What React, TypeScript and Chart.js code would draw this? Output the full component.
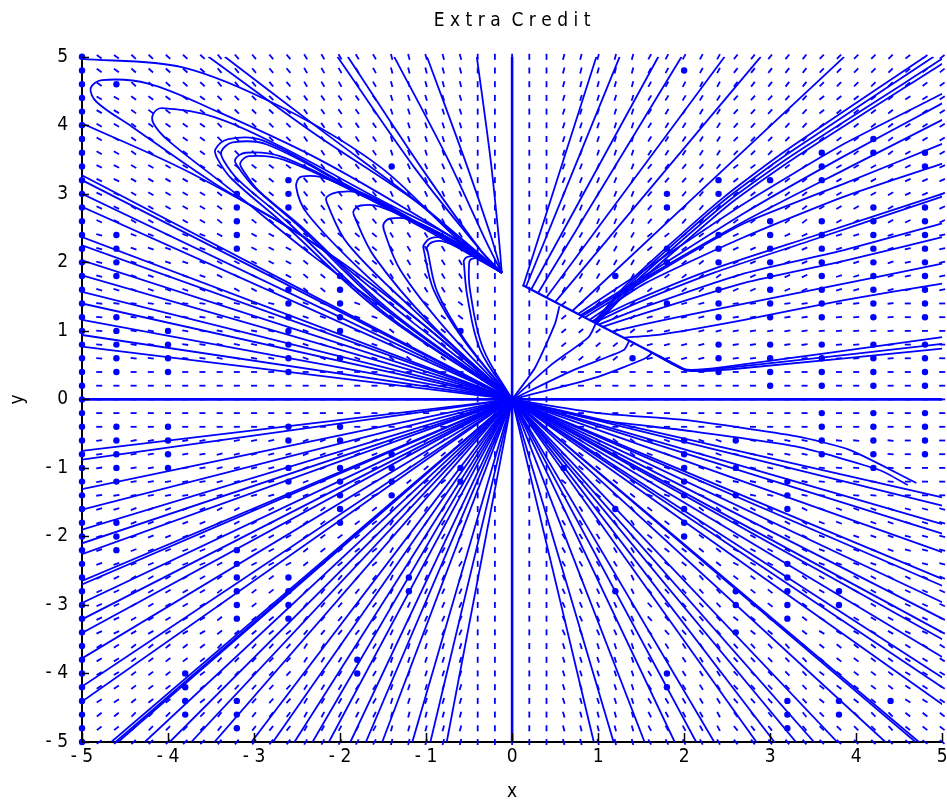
import React, { useEffect, useRef } from "react";
import { Chart, registerables } from "chart.js";
Chart.register(...registerables);

type P = [number, number];
const BLUE = "#0000ff";
const FONT = "'Liberation Sans Narrow', 'DejaVu Sans Condensed', 'Liberation Sans', Arial, sans-serif";

const xTicks = [-5, -4, -3, -2, -1, 0, 1, 2, 3, 4, 5];
const yTicks = [-5, -4, -3, -2, -1, 0, 1, 2, 3, 4, 5];

// direction-field dash angles (screen degrees, "/" positive), read on a 1-unit grid
// rows: y = 5 .. -5, columns: x = -5 .. 5
const fieldAngles: number[][] = [
  [-35, -42, -50, -60, -75, 90, 75, 62, 52, 45, 38],
  [-30, -36, -45, -55, -72, 90, 72, 58, 47, 38, 32],
  [-25, -30, -38, -50, -65, 90, 68, 50, 38, 30, 25],
  [-15, -20, -28, -40, -58, 90, 60, 38, 25, 18, 12],
  [-5, -8, -12, -20, -38, 90, 40, 15, 8, 5, 0],
  [0, 0, 0, 0, 0, 90, 0, 0, 0, 0, 0],
  [8, 10, 14, 22, 40, 90, -38, -20, -12, -5, 0],
  [18, 22, 28, 38, 58, 90, -58, -38, -28, -20, -15],
  [25, 30, 38, 50, 65, 90, -65, -48, -38, -30, -25],
  [32, 38, 47, 58, 72, 90, -72, -58, -47, -38, -32],
  [38, 45, 52, 62, 75, 90, -75, -62, -52, -45, -38],
];
const fieldStep = 0.2;

// zero-length field arrows (drawn as dots): column x and its rows y
const dotColumns: [number, number[]][] = [
  [-4.6, [4.6, 2.4, 2.2, 2.0, 1.8, 1.2, 1.0, 0.8, 0.6, 0.4, -0.4, -0.6, -0.8, -1.0, -1.2, -1.8, -2.0, -2.2]],
  [-4.0, [1.0, 0.8, 0.6, 0.4, -0.4, -0.6, -0.8, -1.0]],
  [-3.8, [-4.0, -4.2, -4.4, -4.6]],
  [-3.2, [3.0, 2.8, 2.6, 2.4, 2.2, -2.2, -2.4, -2.6, -2.8, -3.0, -3.2, -4.4, -4.6, -4.8]],
  [-2.6, [3.2, 3.0, 2.8, 1.6, 1.4, 1.2, 1.0, 0.8, 0.6, 0.4, -0.4, -0.6, -1.0, -1.2, -1.4, -2.6, -2.8, -3.0, -3.2]],
  [-2.0, [1.8, 1.6, 1.4, 1.2, 1.0, 0.6, -0.4, -0.6, -1.0, -1.2, -1.4, -1.6, -1.8]],
  [-1.8, [-3.8, -4.0]],
  [-1.4, [3.4, -0.8, -1.0, -1.2, -1.4]],
  [-1.2, [-2.6, -2.8]],
  [-0.6, [1.0, -1.0, -1.2]],
  [0.6, [-1.0]],
  [1.2, [1.8, -1.6, -2.8]],
  [1.4, [0.6]],
  [1.8, [3.0, 2.8, 2.2, 2.0, 1.4, -4.0, -4.2]],
  [2.0, [4.8, -0.6, -0.8, -1.0, -1.2, -1.4, -1.6, -1.8, -2.0]],
  [2.4, [3.2, 3.0, 2.4, 2.2, 2.0, 1.6, 1.4, 1.2, 0.8, 0.6, 0.4]],
  [2.6, [-0.6, -1.0, -1.4, -2.8, -3.0, -3.4]],
  [3.0, [3.2, 2.6, 2.4, 2.2, 2.0, 1.8, 1.6, 1.4, 1.2, 0.8, 0.6, 0.4, 0.2]],
  [3.2, [-1.2, -1.4, -1.6, -2.4, -2.6, -2.8, -3.0, -3.2, -4.4, -4.6, -4.8]],
  [3.6, [3.6, 3.4, 3.2, 2.6, 2.4, 2.2, 2.0, 1.8, 1.6, 1.4, 1.2, 0.8, 0.6, 0.4, 0.2, -0.2, -0.4, -0.6, -0.8]],
  [3.8, [-2.8, -3.0, -4.4, -4.6]],
  [4.2, [3.8, 3.6, 2.8, 2.6, 2.4, 2.2, 2.0, 1.8, 1.6, 1.4, 1.2, 0.8, 0.6, 0.4, 0.2, -0.2, -0.4, -0.6, -0.8, -1.0]],
  [4.4, [-4.4]],
  [4.8, [3.6, 3.4, 2.8, 2.6, 2.4, 2.2, 2.0, 1.8, 1.6, 1.4, 1.2, 0.8, 0.6, 0.4, 0.2, -0.2, -0.4, -0.6, -0.8]],
];
const dotEdgeColumnX = -5;

// straight trajectories from the origin to the frame
const upperLeftEdgeY = [3.27, 3.2, 3.0, 2.81, 2.37, 2.25, 2.03, 1.81, 1.57, 1.4, 1.16, 0.94, 0.77];
const lowerLeftEdgeY = [-0.75, -0.88, -1.31, -1.61, -1.9, -2.1, -2.26, -2.65, -2.7, -2.97, -3.21, -3.41, -3.78, -4.19, -4.41];
const bottomEdgeX = [-4.66, -4.61, -4.58, -4.27, -3.98, -3.73, -3.46, -3.03, -2.78, -2.53, -2.32, -2.13, -1.88, -1.7, -1.51, -1.16, -0.95, -0.76,
  0.95, 1.18, 1.54, 1.89, 2.14, 2.35, 2.84, 3.05, 3.3, 3.51, 3.78, 4.34, 4.69, 4.73];
const lowerRightEdgeY = [-1.43, -1.55, -1.82, -1.96, -2.23, -2.62, -2.72, -2.96, -3.2, -3.4, -3.5, -3.76, -4.06, -4.2, -4.45];

// curved trajectories, upper-left: flowing into the knot near (-0.12, 1.85)
const topInflow: P[][] = [
  [[-5, 4.97], [-3.84, 4.85], [-2.69, 4.27], [-1.53, 3.39], [-0.6, 2.3], [-0.12, 1.85]],
  [[-3.53, 5], [-2.3, 3.88], [-1.14, 2.91], [-0.55, 2.28], [-0.12, 1.85]],
  [[-3.34, 5], [-2.22, 3.93], [-1.1, 2.88], [-0.5, 2.25], [-0.12, 1.85]],
  [[-2.03, 5], [-1.14, 3.39], [-0.37, 2.18], [-0.12, 1.85]],
  [[-1.91, 5], [-1.06, 3.39], [-0.35, 2.15], [-0.12, 1.85]],
  [[-1.37, 5], [-0.76, 3.54], [-0.3, 2.3], [-0.12, 1.85]],
  [[-0.99, 5], [-0.55, 3.5], [-0.25, 2.4], [-0.12, 1.85]],
  [[-0.41, 5], [-0.25, 3.5], [-0.15, 2.3], [-0.12, 1.85]],
];
const loops: P[][] = [
  [[-0.12, 1.85], [-0.5, 2.2], [-1.14, 2.71], [-2.3, 3.54], [-3.46, 4.22], [-4.23, 4.61], [-4.77, 4.66], [-4.9, 4.54], [-4.83, 4.34], [-4.42, 3.98], [-3.46, 3.15], [-2.3, 2.27], [-1.14, 1.11], [0, 0]],
  [[-0.12, 1.85], [-0.6, 2.3], [-1.53, 2.91], [-2.69, 3.69], [-3.46, 4.12], [-4.07, 4.25], [-4.17, 4.17], [-4.17, 4.03], [-4.0, 3.78], [-3.26, 3.05], [-2.3, 2.08], [-1.14, 1.01], [0, 0]],
  [[-0.12, 1.85], [-0.7, 2.3], [-1.91, 3.12], [-2.9, 3.78], [-3.3, 3.8], [-3.45, 3.65], [-3.42, 3.5], [-3.26, 3.22], [-2.69, 2.6], [-1.53, 1.28], [0, 0]],
  [[-0.12, 1.85], [-0.7, 2.3], [-1.9, 3.1], [-2.85, 3.72], [-3.25, 3.75], [-3.38, 3.62], [-3.35, 3.48], [-3.18, 3.2], [-2.62, 2.6], [-1.5, 1.28], [0, 0]],
  [[-0.12, 1.85], [-0.7, 2.32], [-1.85, 3.05], [-2.7, 3.55], [-3.1, 3.6], [-3.22, 3.5], [-3.18, 3.38], [-3.0, 3.1], [-2.5, 2.55], [-1.45, 1.3], [0, 0]],
  [[-0.12, 1.85], [-0.7, 2.3], [-1.82, 3.02], [-2.66, 3.5], [-3.06, 3.55], [-3.16, 3.45], [-3.12, 3.33], [-2.95, 3.05], [-2.45, 2.52], [-1.42, 1.3], [0, 0]],
  [[-0.12, 1.85], [-1.14, 2.57], [-2.11, 3.2], [-2.45, 3.25], [-2.51, 3.1], [-2.38, 2.71], [-1.72, 1.84], [-0.8, 0.85], [0, 0]],
  [[-0.12, 1.85], [-0.95, 2.47], [-1.72, 3.0], [-1.99, 3.03], [-2.15, 2.96], [-2.15, 2.86], [-1.91, 2.27], [-1.14, 1.3], [0, 0]],
  [[-0.12, 1.85], [-0.76, 2.37], [-1.53, 2.81], [-1.76, 2.83], [-1.84, 2.76], [-1.84, 2.69], [-1.6, 2.08], [-0.95, 1.11], [0, 0]],
  [[-0.12, 1.85], [-0.56, 2.23], [-1.18, 2.62], [-1.41, 2.64], [-1.49, 2.57], [-1.49, 2.47], [-1.3, 1.89], [-0.76, 1.01], [0, 0]],
  [[-0.12, 1.85], [-0.45, 2.13], [-0.79, 2.35], [-0.95, 2.35], [-1.03, 2.25], [-1.03, 2.2], [-0.91, 1.59], [-0.56, 0.86], [0, 0]],
  [[-0.12, 1.85], [-0.45, 2.1], [-0.78, 2.3], [-0.92, 2.3], [-0.99, 2.22], [-0.98, 2.15], [-0.87, 1.57], [-0.54, 0.85], [0, 0]],
  [[-0.12, 1.85], [-0.37, 2.08], [-0.52, 2.08], [-0.56, 2.03], [-0.56, 1.98], [-0.52, 1.5], [-0.37, 0.72], [0, 0]],
  [[-0.12, 1.85], [-0.33, 2.05], [-0.47, 2.05], [-0.5, 1.98], [-0.49, 1.6], [-0.34, 0.75], [0, 0]],
  [[-5, 4.03], [-3.73, 3.3], [-2.3, 2.27], [-1.14, 1.2], [0, 0]],
];

// upper-right: the ridge, the curves from the origin up to it, and those leaving it
const ridge: P[] = [[0.12, 1.67], [2.0, 0.44]];
const originToRidge: P[][] = [
  [[0, 0], [0.27, 0.47], [0.5, 1.11], [0.55, 1.36]],
  [[0, 0], [0.45, 0.5], [0.89, 0.91], [0.97, 1.1]],
  [[0, 0], [0.7, 0.42], [1.3, 0.72], [1.36, 0.85]],
  [[0, 0], [1.0, 0.33], [1.55, 0.6], [1.63, 0.68]],
];
const ridgeOutflow: P[][] = [
  [[0.13, 1.66], [0.98, 5]],
  [[0.16, 1.64], [1.25, 5]],
  [[0.22, 1.6], [1.7, 5]],
  [[0.3, 1.55], [1.97, 5]],
  [[0.4, 1.49], [2.47, 5]],
  [[0.5, 1.42], [2.89, 5]],
  [[0.7, 1.29], [3.86, 5]],
  [[0.95, 1.12], [1.27, 1.6], [1.85, 2.28], [2.47, 2.96], [3.16, 3.61], [4.8, 5]],
  [[0.96, 1.11], [1.29, 1.59], [1.88, 2.27], [2.5, 2.94], [3.2, 3.58], [4.9, 5]],
  [[0.97, 1.1], [1.31, 1.57], [1.91, 2.25], [2.53, 2.91], [3.24, 3.55], [5, 4.97]],
  [[0.98, 1.1], [1.33, 1.55], [1.94, 2.22], [2.56, 2.88], [3.28, 3.52], [5, 4.9]],
  [[0.77, 1.25], [1.54, 1.89], [2.7, 2.86], [3.86, 3.73], [5, 4.46]],
  [[0.8, 1.23], [1.6, 1.85], [2.7, 2.72], [3.86, 3.55], [5, 4.32]],
  [[0.82, 1.22], [1.65, 1.85], [2.7, 2.6], [3.86, 3.35], [5, 4.08]],
  [[0.85, 1.2], [1.74, 1.89], [2.7, 2.57], [3.86, 3.15], [5, 3.73]],
  [[0.9, 1.16], [1.54, 1.69], [2.7, 2.37], [3.86, 2.96], [5, 3.44]],
  [[0.93, 1.14], [1.35, 1.4], [2.31, 1.89], [3.47, 2.37], [5, 3.0]],
  [[0.96, 1.12], [1.4, 1.38], [2.35, 1.85], [3.5, 2.33], [5, 2.96]],
  [[1.0, 1.09], [1.54, 1.35], [2.7, 1.84], [3.86, 2.18], [5, 2.57]],
  [[1.05, 1.06], [1.6, 1.28], [2.7, 1.7], [3.86, 2.02], [5, 2.37]],
  [[1.16, 0.99], [1.54, 1.1], [2.31, 1.3], [3.47, 1.59], [5, 1.98]],
  [[1.3, 0.9], [1.74, 0.95], [2.7, 1.16], [3.86, 1.45], [5, 1.69]],
  [[1.6, 0.7], [2.0, 0.44], [2.45, 0.47], [5, 0.91]],
  [[1.7, 0.64], [2.02, 0.43], [2.5, 0.46], [5, 0.81]],
  [[1.8, 0.57], [2.03, 0.42], [2.55, 0.44], [5, 0.74]],
];
// lower-right wavy curves
const lowerRightCurves: P[][] = [
  [[0, 0], [1.0, -0.2], [2.0, -0.3], [3.31, -0.54], [3.93, -0.74], [4.7, -1.22]],
  [[0, 0], [1.0, -0.3], [2.0, -0.45], [3.31, -0.69], [4.27, -1.03], [4.6, -1.25]],
];
const axisLines: P[][] = [
  [[0, -5], [0, 5]],
  [[-5, 0], [5, 0]],
];

const key = (x: number, y: number) => `${x.toFixed(1)},${y.toFixed(1)}`;

function buildDatasets() {
  const dotSet = new Set<string>();
  dotColumns.forEach(([x, ys]) => ys.forEach((y) => dotSet.add(key(x, y))));
  const n = Math.round(10 / fieldStep);
  const dots: { x: number; y: number }[] = [];
  const dashes: { x: number; y: number; a: number }[] = [];
  for (let i = 0; i <= n; i++) {
    for (let j = 0; j <= n; j++) {
      const x = +(-5 + i * fieldStep).toFixed(1);
      const y = +(-5 + j * fieldStep).toFixed(1);
      if (x === dotEdgeColumnX || dotSet.has(key(x, y))) {
        dots.push({ x, y });
        continue;
      }
      const col = Math.round(x) + 5;
      const row = 5 - Math.round(y);
      dashes.push({ x, y, a: fieldAngles[row][col] });
    }
  }
  const line = (pts: P[], tension = 0, width = 1.8) => ({
    type: "scatter" as const,
    data: pts.map(([x, y]) => ({ x, y })),
    showLine: true,
    borderColor: BLUE,
    backgroundColor: BLUE,
    borderWidth: width,
    pointRadius: 0,
    pointHoverRadius: 0,
    tension,
    fill: false,
  });
  const ds: any[] = [];
  ds.push({
    type: "scatter",
    data: dashes,
    pointStyle: "line",
    pointRadius: 3,
    pointHoverRadius: 3,
    pointBorderWidth: 1.8,
    borderColor: BLUE,
    backgroundColor: BLUE,
    rotation: (c: any) => -(c.raw ? c.raw.a : 0),
    clip: false,
  });
  ds.push({
    type: "scatter",
    data: dots,
    pointStyle: "circle",
    pointRadius: 3.2,
    pointHoverRadius: 3.2,
    pointBorderWidth: 0,
    backgroundColor: BLUE,
    borderColor: BLUE,
    clip: false,
  });
  upperLeftEdgeY.forEach((y) => ds.push(line([[0, 0], [-5, y]])));
  lowerLeftEdgeY.forEach((y) => ds.push(line([[0, 0], [-5, y]])));
  bottomEdgeX.forEach((x) => ds.push(line([[0, 0], [x, -5]])));
  lowerRightEdgeY.forEach((y) => ds.push(line([[0, 0], [5, y]])));
  topInflow.forEach((c) => ds.push(line(c, 0.3)));
  loops.forEach((c) => ds.push(line(c, 0.35)));
  ds.push(line(ridge, 0, 2.2));
  originToRidge.forEach((c) => ds.push(line(c, 0.2)));
  ridgeOutflow.forEach((c) => ds.push(line(c, 0.2)));
  lowerRightCurves.forEach((c) => ds.push(line(c, 0.2)));
  axisLines.forEach((c) => ds.push(line(c, 0, 2.6)));
  return ds;
}

const innerTicks = {
  id: "innerTicks",
  afterDatasetsDraw(chart: any) {
    const { ctx, chartArea, scales } = chart;
    ctx.save();
    ctx.strokeStyle = "#000";
    ctx.lineWidth = 1.5;
    ctx.beginPath();
    xTicks.forEach((v) => {
      const px = Math.round(scales.x.getPixelForValue(v)) + 0.5;
      ctx.moveTo(px, chartArea.bottom);
      ctx.lineTo(px, chartArea.bottom - 9);
    });
    yTicks.forEach((v) => {
      const py = Math.round(scales.y.getPixelForValue(v)) + 0.5;
      ctx.moveTo(chartArea.left, py);
      ctx.lineTo(chartArea.left + 7, py);
    });
    ctx.stroke();
    ctx.restore();
  },
};

const tickLabel = (v: any) => (Number(v) < 0 ? "- " + Math.abs(Number(v)) : String(v));

export default function App() {
  const ref = useRef<HTMLCanvasElement | null>(null);
  useEffect(() => {
    if (!ref.current) return;
    const chart = new Chart(ref.current, {
      type: "scatter",
      data: { datasets: buildDatasets() },
      plugins: [innerTicks],
      options: {
        animation: false,
        responsive: false,
        devicePixelRatio: 1,
        events: [],
        layout: { padding: { left: 0, right: 1, top: 0, bottom: 0 } },
        plugins: {
          legend: { display: false },
          tooltip: { enabled: false },
          title: {
            display: true,
            text: "E x t r a  C r e d i t",
            color: "#000",
            fullSize: false,
            font: { family: FONT, size: 19, weight: "normal", style: "condensed" },
            padding: { top: 10, bottom: 24 },
          },
        },
        scales: {
          x: {
            type: "linear",
            min: -5,
            max: 5,
            afterBuildTicks: (s: any) => {
              s.ticks = xTicks.map((v) => ({ value: v }));
            },
            ticks: {
              callback: tickLabel,
              color: "#000",
              font: { family: FONT, size: 19, style: "condensed" },
              padding: 4,
              maxRotation: 0,
              autoSkip: false,
            },
            grid: { drawOnChartArea: false, drawTicks: false },
            border: { display: true, color: "#000", width: 2 },
            title: {
              display: true,
              text: "x",
              color: "#000",
              font: { family: FONT, size: 19, style: "condensed" },
              padding: { top: 0, bottom: 0 },
            },
            afterFit: (s: any) => {
              s.height = 61;
              s.paddingLeft = 0;
              s.paddingRight = 0;
            },
          },
          y: {
            type: "linear",
            min: -5,
            max: 5,
            afterBuildTicks: (s: any) => {
              s.ticks = yTicks.map((v) => ({ value: v }));
            },
            ticks: {
              callback: tickLabel,
              color: "#000",
              font: { family: FONT, size: 19, style: "condensed" },
              padding: 14,
              autoSkip: false,
            },
            grid: { drawOnChartArea: false, drawTicks: false },
            border: { display: true, color: "#000", width: 2 },
            title: {
              display: true,
              text: "y",
              color: "#000",
              font: { family: FONT, size: 19, style: "condensed" },
              padding: { top: 7, bottom: 0 },
            },
            afterFit: (s: any) => {
              s.width = 82;
              s.paddingTop = 0;
              s.paddingBottom = 0;
            },
          },
        },
      } as any,
    });
    return () => chart.destroy();
  }, []);
  return (
    <div style={{ position: "fixed", left: 0, top: 0, width: 947, height: 803, background: "#fff" }}>
      <canvas ref={ref} width={947} height={803} style={{ display: "block", width: 947, height: 803 }} />
    </div>
  );
}
